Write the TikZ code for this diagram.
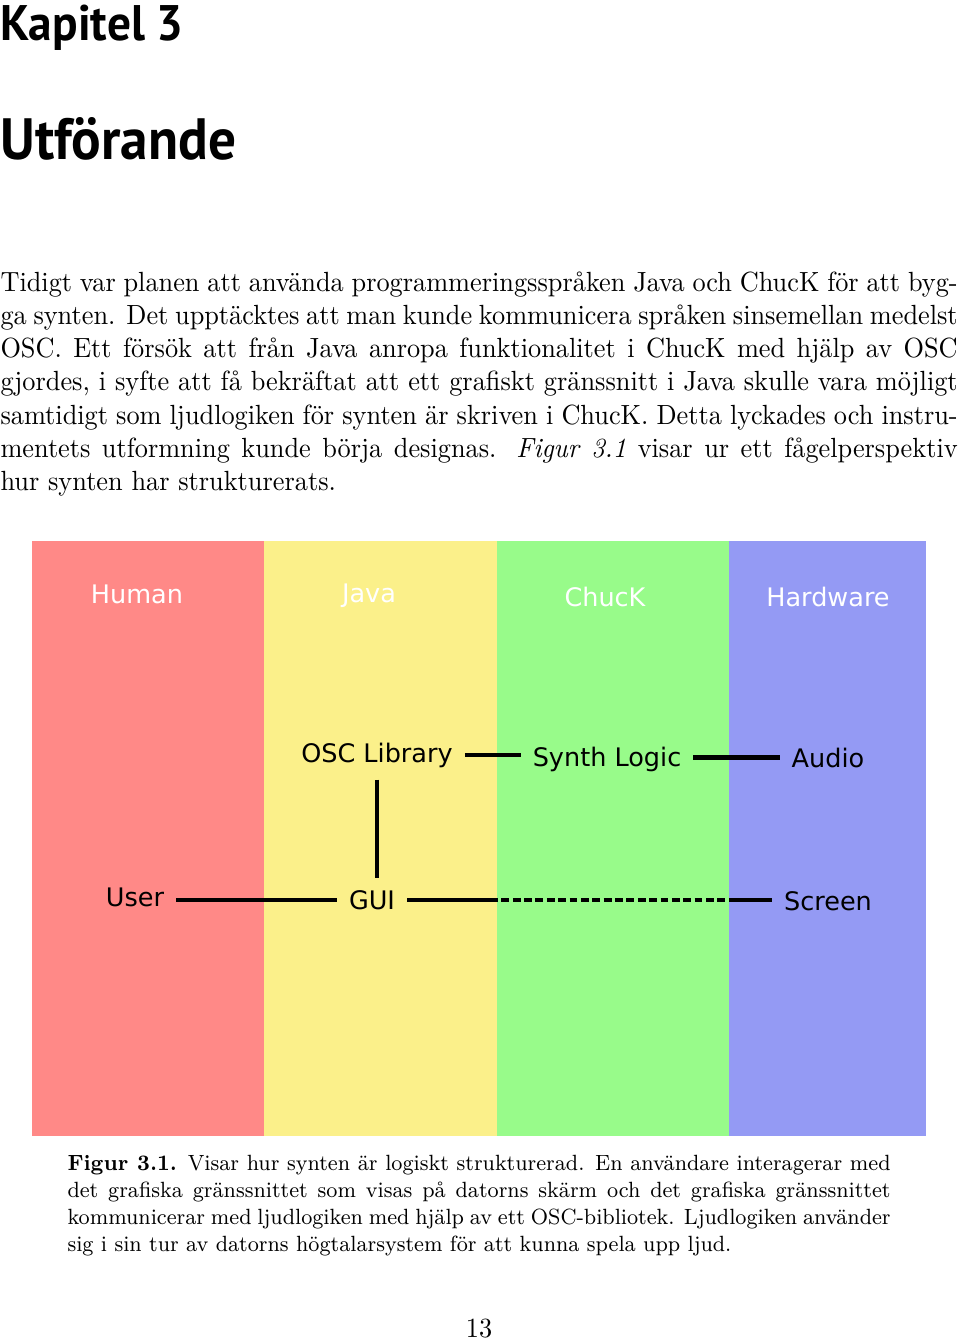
\documentclass[tikz,border=0pt]{standalone}
\usepackage{fontspec}
\newfontfamily\headfont{PT Sans}
\newfontfamily\labfont{DejaVu Sans}
\definecolor{colR}{HTML}{FF8987}
\definecolor{colY}{HTML}{FBF08A}
\definecolor{colG}{HTML}{98FB8A}
\definecolor{colB}{HTML}{949AF4}
\tikzset{
  lab/.style={font=\labfont\fontsize{9.2}{10}\selectfont, inner sep=4.2pt, anchor=base, text=black},
  collab/.style={lab, text=white},
  conn/.style={line width=1.45pt, black},
  dashconn/.style={conn, dash pattern=on 2.8pt off 1.3pt},
  squeeze/.style={xscale=0.948, transform shape},
  para/.style={inner sep=0pt, anchor=base west, align=justify, squeeze},
}
\begin{document}
\begin{tikzpicture}[x=0.3605pt,y=-0.3605pt]
\useasboundingbox (0,0) rectangle (960,1342);
% headings
\node[inner sep=0pt, anchor=base west, squeeze, font=\headfont\bfseries\fontsize{18}{20}\selectfont] (kap) at (0,40) {Kapitel 3};
\node[inner sep=0pt, anchor=base west, squeeze, font=\headfont\bfseries\fontsize{21}{24}\selectfont] (utf) at (0,159) {Utförande};
% body
\node[para, text width=364pt, font=\fontsize{10}{12}\selectfont] (body) at (0,291) {\tolerance=9999\hyphenpenalty=10000
Tidigt var planen att använda programmeringsspråken Java och ChucK för att byg-\linebreak
ga synten. Det upptäcktes att man kunde kommunicera språken sinsemellan medelst\linebreak
OSC. Ett försök att från Java anropa funktionalitet i ChucK med hjälp av OSC\linebreak
gjordes, i syfte att få bekräftat att ett grafiskt gränssnitt i Java skulle vara möjligt\linebreak
samtidigt som ljudlogiken för synten är skriven i ChucK. Detta lyckades och instru-\linebreak
mentets utformning kunde börja designas. \textit{Figur 3.1} visar ur ett fågelperspektiv\linebreak
hur synten har strukturerats.};
% columns
\fill[colR] (32,541) rectangle (264,1136);
\fill[colY] (264,541) rectangle (497,1136);
\fill[colG] (497,541) rectangle (729,1136);
\fill[colB] (729,541) rectangle (926,1136);
% column titles
\node[collab] (human) at (137,603) {Human};
\node[collab] (java) at (369,602) {Java};
\node[collab] (chuck) at (605,606) {ChucK};
\node[collab] (hw) at (828,606) {Hardware};
% labels
\node[lab] (osc) at (377,762) {OSC Library};
\node[lab] (synth) at (607,766) {Synth Logic};
\node[lab] (audio) at (828,767) {Audio};
\node[lab] (user) at (135,906) {User};
\node[lab] (gui) at (372,909) {GUI};
\node[lab] (screen) at (828,910) {Screen};
% connectors
\draw[conn] (osc.east) -- (osc.east -| synth.west);
\draw[conn] (audio.west -| synth.east) -- (audio.west);
\draw[conn] (osc.south) -- (osc.south |- gui.north);
\draw[conn] (gui.west -| user.east) -- (gui.west);
\coordinate (d1) at (490,902);
\coordinate (d2) at (737,902);
\draw[conn] (gui.east) -- (gui.east -| d1);
\draw[dashconn] (gui.east -| d1) -- (gui.east -| d2);
\draw[conn] (gui.east -| d2) -- (gui.east -| screen.west);
% caption
\node[para, text width=313pt, font=\fontsize{7.95}{9.75}\selectfont] (cap) at (67,1170) {\tolerance=9999\hyphenpenalty=10000
\textbf{Figur 3.1.} Visar hur synten är logiskt strukturerad. En användare interagerar med\linebreak
det grafiska gränssnittet som visas på datorns skärm och det grafiska gränssnittet\linebreak
kommunicerar med ljudlogiken med hjälp av ett OSC-bibliotek. Ljudlogiken använder\linebreak
sig i sin tur av datorns högtalarsystem för att kunna spela upp ljud.};
% page number
\node[inner sep=0pt, anchor=base, squeeze, font=\fontsize{10}{12}\selectfont] (pg) at (479,1337) {13};
\end{tikzpicture}
\end{document}
